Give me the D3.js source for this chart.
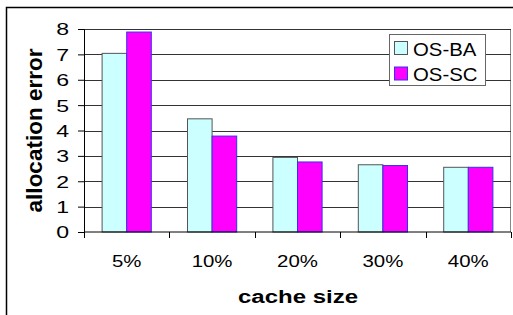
<!DOCTYPE html>
<html>
<head>
<meta charset="utf-8">
<script src="https://cdn.jsdelivr.net/npm/d3@7"></script>
<style>
  body { margin: 0; background: #fff; }
  svg { display: block; font-family: "Liberation Sans", Arial, sans-serif; }
</style>
</head>
<body>
<svg width="513" height="315"></svg>
<script>
// chart values
var categories = ["5%", "10%", "20%", "30%", "40%"];
var seriesNames = ["OS-BA", "OS-SC"];
var osBA = [7.04, 4.46, 2.94, 2.65, 2.55];
var osSC = [7.88, 3.78, 2.76, 2.62, 2.55];
var yTicks = [0, 1, 2, 3, 4, 5, 6, 7, 8];

var fills = ["#ccffff", "#ff00ff"],
    strokes = ["#555555", "#3333ee"];

var svg = d3.select("svg");

// the original text is drawn wider than the font, stretch it a bit
function widen(sel, k) {
  sel.each(function() {
    var len = this.getComputedTextLength();
    d3.select(this)
      .attr("textLength", len * k)
      .attr("lengthAdjust", "spacingAndGlyphs");
  });
}

// outer frame (clipped on right / bottom like the original)
svg.append("path")
    .attr("d", "M6.5,315V7.5H513")
    .attr("fill", "none")
    .attr("stroke", "#000")
    .attr("stroke-width", 1.5);

var margin = {top: 29, right: 2, bottom: 83, left: 84},
    width = 513 - margin.left - margin.right,
    height = 315 - margin.top - margin.bottom;

var g = svg.append("g")
    .attr("transform", "translate(" + margin.left + "," + margin.top + ")");

var x0 = d3.scaleBand().domain(categories).range([0, width])
    .paddingInner(0.424).paddingOuter(0.212);
var x1 = d3.scaleBand().domain(seriesNames).range([0, x0.bandwidth()]);
var y = d3.scaleLinear().domain([0, 8]).range([height, 0]);

// plot area border
g.append("path")
    .attr("d", "M0,0.5H" + (width - 0.5) + "V" + height)
    .attr("fill", "none")
    .attr("stroke", "#888");

// gridlines
g.append("g")
  .selectAll("line")
  .data(yTicks.filter(function(d) { return d > 0; }))
  .enter().append("line")
    .attr("x1", 0).attr("x2", width)
    .attr("y1", function(d) { return Math.round(y(d)) + 0.5; })
    .attr("y2", function(d) { return Math.round(y(d)) + 0.5; })
    .attr("stroke", "#333");

// bars
var rows = categories.map(function(c, i) {
  return {cat: c, vals: [osBA[i], osSC[i]]};
});

g.append("g")
  .selectAll("g")
  .data(rows)
  .enter().append("g")
    .attr("transform", function(d) { return "translate(" + x0(d.cat) + ",0)"; })
  .selectAll("rect")
  .data(function(d) { return d.vals.map(function(v, j) { return {name: seriesNames[j], v: v, j: j}; }); })
  .enter().append("rect")
    .attr("x", function(d) { return x1(d.name); })
    .attr("width", x1.bandwidth())
    .attr("y", function(d) { return y(d.v); })
    .attr("height", function(d) { return height - y(d.v); })
    .attr("fill", function(d) { return fills[d.j]; })
    .attr("stroke", function(d) { return strokes[d.j]; })
    .attr("stroke-width", 1);

// y axis
var yAxis = g.append("g")
    .call(d3.axisLeft(y).tickValues(yTicks).tickSize(6).tickPadding(9));
yAxis.select(".domain").attr("stroke", "#000");
yAxis.selectAll(".tick line").attr("stroke", "#000");
yAxis.selectAll("text")
    .attr("font-size", 16.5)
    .attr("fill", "#000")
    .attr("dy", "0.36em")
    .style("font-family", "Liberation Sans, Arial, sans-serif")
    .call(widen, 1.4);

// x axis with ticks at group boundaries
var xAxis = g.append("g")
    .attr("transform", "translate(0," + height + ")");
xAxis.append("line")
    .attr("x1", 0).attr("x2", width)
    .attr("stroke", "#000");
var step = x0.step();
xAxis.selectAll(".bnd")
  .data(d3.range(categories.length + 1))
  .enter().append("line")
    .attr("class", "bnd")
    .attr("x1", function(i) { return Math.round(i * step) + 0.5; })
    .attr("x2", function(i) { return Math.round(i * step) + 0.5; })
    .attr("y1", 0).attr("y2", 6)
    .attr("stroke", "#000");
xAxis.selectAll(".lbl")
  .data(categories)
  .enter().append("text")
    .attr("class", "lbl")
    .attr("x", function(d) { return x0(d) + x0.bandwidth() / 2; })
    .attr("y", 35)
    .attr("text-anchor", "middle")
    .attr("font-size", 17)
    .text(function(d) { return d; })
    .call(widen, 1.2);

// axis titles
svg.append("text")
    .attr("x", 298)
    .attr("y", 303)
    .attr("text-anchor", "middle")
    .attr("font-size", 17.5)
    .attr("font-weight", "bold")
    .text("cache size")
    .call(widen, 1.37);

svg.append("text")
    .attr("transform", "translate(41.5," + (margin.top + height / 2) + ") rotate(-90)")
    .attr("text-anchor", "middle")
    .attr("font-size", 22.5)
    .attr("font-weight", "bold")
    .text("allocation error");

// legend
var legend = svg.append("g").attr("transform", "translate(389.5,34.5)");
legend.append("rect")
    .attr("width", 96).attr("height", 51)
    .attr("fill", "#fff")
    .attr("stroke", "#666");
var items = legend.selectAll(".item")
  .data(seriesNames)
  .enter().append("g")
    .attr("transform", function(d, i) { return "translate(5," + (7 + i * 25.5) + ")"; });
items.append("rect")
    .attr("width", 13).attr("height", 13)
    .attr("fill", function(d, i) { return fills[i]; })
    .attr("stroke", function(d, i) { return strokes[i]; });
items.append("text")
    .attr("x", 18.5)
    .attr("y", 14)
    .attr("font-size", 18.5)
    .text(function(d) { return d; })
    .call(widen, 1.1);
</script>
</body>
</html>
